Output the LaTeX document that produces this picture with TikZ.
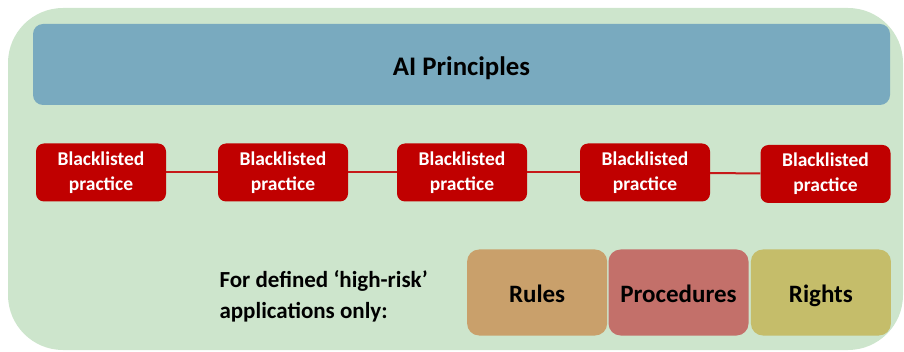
\documentclass[tikz,border=0pt]{standalone}
\usepackage{fontspec}
\setmainfont{Carlito}
\usetikzlibrary{positioning}

\definecolor{bggreen}{HTML}{CDE5CC}
\definecolor{topblue}{HTML}{79AABF}
\definecolor{blackred}{HTML}{C00000}
\definecolor{rulesbrown}{HTML}{C9A06B}
\definecolor{procred}{HTML}{C3706A}
\definecolor{rightsolive}{HTML}{C5BD6A}

\begin{document}
\begin{tikzpicture}[x=1pt,y=-1pt,
		principle box/.style={rectangle,rounded corners=10pt,fill=topblue,minimum width=857pt,minimum height=81pt,inner sep=0pt,text height=22pt,text depth=0pt,font=\fontsize{26.8}{30}\selectfont\bfseries},
		practice box/.style={rectangle,rounded corners=8pt,fill=blackred,text=white,minimum width=130pt,minimum height=58pt,inner sep=0pt,align=center,font=\fontsize{19.5}{25}\selectfont\bfseries},
		duty box/.style={rectangle,rounded corners=12pt,minimum width=140pt,minimum height=86pt,inner sep=0pt,text height=21pt,text depth=1pt,font=\fontsize{25}{28}\selectfont\bfseries}]

		% background
		\useasboundingbox (0,0) rectangle (904,352);
		\fill[bggreen,rounded corners=55pt] (8,8) rectangle (903,350);

		\node[principle box] (ai) at (461.5,64.5) {AI Principles};

		\node[practice box] (p1) at (101,172.5) {Blacklisted\\practice};
		\node[practice box] (p2) at (283,172.5) {Blacklisted\\practice};
		\node[practice box] (p3) at (462,172.5) {Blacklisted\\practice};
		\node[practice box] (p4) at (645,172.5) {Blacklisted\\practice};
		\node[practice box] (p5) at (825.5,174) {Blacklisted\\practice};

		\path[blackred!90!white,line width=2pt]
		(p1) edge (p2)
		(p2) edge (p3)
		(p3) edge (p4)
		(p4) edge (p5);

		\node[duty box,fill=procred] (proc) at (678.5,292.5) {Procedures};
		\node[duty box,fill=rulesbrown] (rules) [left=1pt of proc] {Rules};
		\node[duty box,fill=rightsolive] (rights) [right=2pt of proc] {Rights};

		\node[anchor=west,align=left,font=\fontsize{23}{31}\selectfont\bfseries] (scope) at (216,296) {For defined ‘high-risk’\\applications only:};
\end{tikzpicture}
\end{document}
